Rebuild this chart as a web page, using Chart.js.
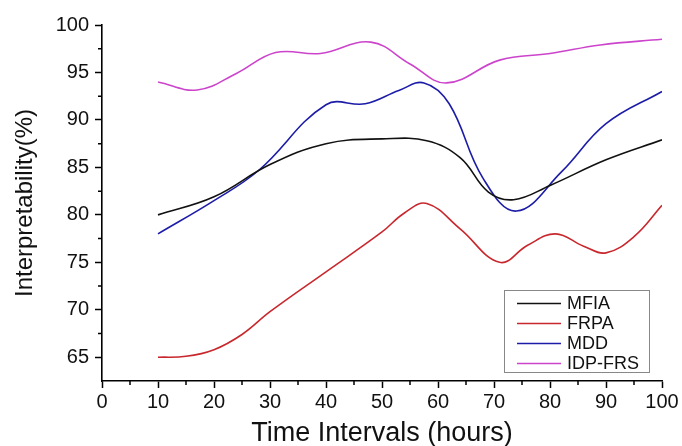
<!DOCTYPE html>
<html>
<head>
<meta charset="utf-8">
<script src="https://cdn.jsdelivr.net/npm/chart.js@4/dist/chart.umd.min.js"></script>
<style>
  html, body { margin: 0; padding: 0; background: #fff; }
  #wrap { width: 682px; height: 446px; }
</style>
</head>
<body>
<div id="wrap"><canvas id="chart" width="682" height="446"></canvas></div>
<script>
// values
const seriesNames = ["MFIA", "FRPA", "MDD", "IDP-FRS"];

const mfiaX = [10, 20, 30, 40, 50, 58, 64, 69, 73.5, 80, 90, 100];
const mfiaY = [80, 81.9, 85.3, 87.5, 88, 87.8, 86.0, 82.4, 81.6, 83.1, 85.8, 87.9];

const frpaX = [10, 15, 20, 25, 30, 40, 50, 54, 58, 64, 71, 76, 81, 86, 90, 95, 100];
const frpaY = [65, 65.1, 65.8, 67.4, 69.8, 74, 78.2, 80.2, 81.2, 78.5, 75, 76.8, 78, 76.7, 76, 77.7, 81];

const mddX = [10, 20, 28, 40, 47, 53, 57.5, 62, 68, 74, 82, 90, 100];
const mddY = [78, 81.5, 84.7, 91.6, 91.7, 93.1, 93.9, 91.7, 83.9, 80.4, 84.5, 89.6, 93];

const idpX = [10, 17, 24, 31, 39, 48, 55, 61.5, 71, 80, 89, 100];
const idpY = [94, 93.15, 94.9, 97.1, 97.0, 98.2, 95.9, 93.9, 96.3, 97.0, 97.9, 98.5];

const xTicks = [0, 10, 20, 30, 40, 50, 60, 70, 80, 90, 100];
const yTicks = [65, 70, 75, 80, 85, 90, 95, 100];
const xMinor = [5, 15, 25, 35, 45, 55, 65, 75, 85, 95];
const yMinor = [67.5, 72.5, 77.5, 82.5, 87.5, 92.5, 97.5];

const colors = ["#111111", "#c8282d", "#1c1ca8", "#cc44cc"];
const FONT = "'Liberation Sans', Arial, sans-serif";

function pts(xs, ys) {
    return xs.map((x, i) => ({ x: x, y: ys[i] }));
}

const allX = [mfiaX, frpaX, mddX, idpX];
const allY = [mfiaY, frpaY, mddY, idpY];

const datasets = seriesNames.map((name, i) => ({
    label: name,
    data: pts(allX[i], allY[i]),
    borderColor: colors[i],
    backgroundColor: colors[i],
    borderWidth: 1.6,
    pointRadius: 0,
    fill: false,
    tension: 0.4,
}));

// minor ticks + boxed legend inside the plot
const extras = {
    id: "extras",
    afterDraw(chart) {
        const ctx = chart.ctx;
        const xs = chart.scales.x;
        const ys = chart.scales.y;
        ctx.save();
        ctx.strokeStyle = "#000";
        ctx.lineWidth = 1.5;
        ctx.beginPath();
        xMinor.forEach(v => {
            const px = xs.getPixelForValue(v);
            ctx.moveTo(px, xs.top);
            ctx.lineTo(px, xs.top + 4);
        });
        yMinor.forEach(v => {
            const py = ys.getPixelForValue(v);
            ctx.moveTo(ys.right, py);
            ctx.lineTo(ys.right - 4, py);
        });
        ctx.stroke();

        // legend
        ctx.strokeStyle = "#888";
        ctx.lineWidth = 1;
        ctx.strokeRect(504.5, 290.5, 145, 82);
        ctx.font = "18px " + FONT;
        ctx.textBaseline = "middle";
        ctx.textAlign = "left";
        chart.data.datasets.forEach((ds, i) => {
            const y = 303.5 + i * 20;
            ctx.strokeStyle = ds.borderColor;
            ctx.lineWidth = 1.6;
            ctx.beginPath();
            ctx.moveTo(517, y);
            ctx.lineTo(561, y);
            ctx.stroke();
            ctx.fillStyle = "#111";
            ctx.fillText(ds.label, 567, y + 1);
        });
        ctx.restore();
    },
};

new Chart(document.getElementById("chart"), {
    type: "line",
    data: { datasets: datasets },
    options: {
        responsive: false,
        animation: false,
        devicePixelRatio: 1,
        layout: { padding: { top: 25, right: 20, bottom: 0, left: 0 } },
        plugins: {
            legend: { display: false },
            tooltip: { enabled: false },
        },
        scales: {
            x: {
                type: "linear",
                position: "bottom",
                min: 0,
                max: 100,
                afterBuildTicks: s => { s.ticks = xTicks.map(v => ({ value: v })); },
                afterFit: s => { s.height = 65; },
                ticks: {
                    font: { family: FONT, size: 20 },
                    color: "#111",
                    padding: 2,
                    maxRotation: 0,
                    autoSkip: false,
                },
                grid: {
                    drawOnChartArea: false,
                    drawTicks: true,
                    tickLength: 7,
                    tickWidth: 1.5,
                    tickColor: "#000",
                },
                border: { color: "#000", width: 1.6 },
                title: {
                    display: true,
                    text: "Time Intervals (hours)",
                    color: "#111",
                    font: { family: FONT, size: 27, lineHeight: 0.9 },
                    padding: { top: 0, bottom: 0 },
                },
            },
            y: {
                type: "linear",
                min: 62.5,
                max: 100,
                afterBuildTicks: s => { s.ticks = yTicks.map(v => ({ value: v })); },
                afterFit: s => { s.width = 102; },
                ticks: {
                    font: { family: FONT, size: 20 },
                    color: "#111",
                    padding: 6,
                },
                grid: {
                    drawOnChartArea: false,
                    drawTicks: true,
                    tickLength: 7,
                    tickWidth: 1.5,
                    tickColor: "#000",
                },
                border: { color: "#000", width: 1.6 },
                title: {
                    display: true,
                    text: "Interpretability(%)",
                    color: "#111",
                    font: { family: FONT, size: 24, lineHeight: 1.2 },
                    padding: { top: 11, bottom: 0 },
                },
            },
        },
    },
    plugins: [extras],
});
</script>
</body>
</html>
